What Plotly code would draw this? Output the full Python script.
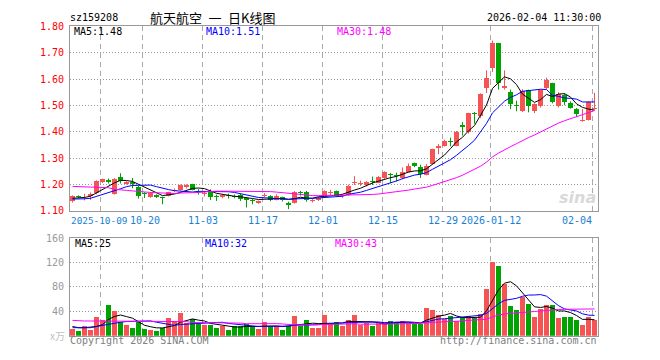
import plotly.graph_objects as go
import pandas as pd

# ---------------- data ----------------
tick_labels = ["2025-10-09", "10-20", "11-03", "11-17", "12-01", "12-15", "12-29", "2026-01-12", "02-04"]
tick_index = [5, 12, 22, 32, 42, 52, 62, 70, 87]

opens = [1.137, 1.156, 1.155, 1.158, 1.167, 1.209, 1.216, 1.165, 1.229, 1.202,
         1.210, 1.190, 1.168, 1.153, 1.161, 1.153, 1.157, 1.175, 1.180, 1.192,
         1.201, 1.181, 1.166, 1.174, 1.156, 1.151, 1.160, 1.158, 1.162, 1.148,
         1.142, 1.129, 1.156, 1.158, 1.143, 1.151, 1.131, 1.131, 1.170, 1.171,
         1.138, 1.141, 1.160, 1.169, 1.175, 1.157, 1.159, 1.206, 1.203, 1.197,
         1.212, 1.207, 1.226, 1.240, 1.238, 1.223, 1.248, 1.280, 1.268, 1.238,
         1.278, 1.337, 1.345, 1.364, 1.348, 1.424, 1.400, 1.472, 1.459, 1.566,
         1.643, 1.735, 1.566, 1.550, 1.503, 1.480, 1.557, 1.480, 1.496, 1.566,
         1.584, 1.496, 1.541, 1.510, 1.486, 1.441, 1.446, 1.487]
highs = [1.159, 1.159, 1.165, 1.170, 1.216, 1.222, 1.223, 1.224, 1.243, 1.213,
         1.225, 1.195, 1.171, 1.170, 1.163, 1.154, 1.173, 1.185, 1.200, 1.201,
         1.203, 1.183, 1.176, 1.182, 1.162, 1.165, 1.166, 1.162, 1.165, 1.150,
         1.145, 1.140, 1.168, 1.160, 1.163, 1.154, 1.135, 1.175, 1.176, 1.176,
         1.145, 1.153, 1.178, 1.180, 1.177, 1.165, 1.200, 1.232, 1.215, 1.213,
         1.230, 1.232, 1.250, 1.244, 1.245, 1.265, 1.280, 1.283, 1.275, 1.278,
         1.336, 1.354, 1.370, 1.378, 1.403, 1.437, 1.472, 1.475, 1.546, 1.633,
         1.746, 1.737, 1.633, 1.560, 1.518, 1.562, 1.560, 1.508, 1.560, 1.605,
         1.586, 1.550, 1.545, 1.515, 1.490, 1.486, 1.515, 1.548]
lows = [1.132, 1.148, 1.140, 1.142, 1.163, 1.206, 1.204, 1.162, 1.204, 1.200,
        1.186, 1.147, 1.149, 1.150, 1.149, 1.125, 1.155, 1.172, 1.177, 1.185,
        1.178, 1.162, 1.155, 1.141, 1.138, 1.148, 1.147, 1.148, 1.138, 1.113,
        1.125, 1.127, 1.152, 1.137, 1.140, 1.136, 1.107, 1.128, 1.158, 1.135,
        1.132, 1.138, 1.157, 1.160, 1.155, 1.150, 1.157, 1.198, 1.195, 1.193,
        1.198, 1.205, 1.222, 1.205, 1.212, 1.220, 1.245, 1.266, 1.225, 1.235,
        1.276, 1.315, 1.344, 1.345, 1.345, 1.386, 1.393, 1.431, 1.452, 1.547,
        1.627, 1.560, 1.560, 1.486, 1.478, 1.475, 1.474, 1.471, 1.492, 1.562,
        1.508, 1.492, 1.501, 1.488, 1.456, 1.438, 1.443, 1.484]
closes = [1.155, 1.152, 1.157, 1.166, 1.213, 1.220, 1.211, 1.222, 1.214, 1.210,
          1.202, 1.155, 1.166, 1.167, 1.153, 1.150, 1.170, 1.181, 1.198, 1.198,
          1.180, 1.178, 1.169, 1.154, 1.153, 1.161, 1.156, 1.154, 1.144, 1.142,
          1.139, 1.138, 1.159, 1.140, 1.158, 1.142, 1.122, 1.171, 1.167, 1.140,
          1.141, 1.150, 1.176, 1.172, 1.158, 1.160, 1.196, 1.210, 1.206, 1.210,
          1.209, 1.229, 1.247, 1.236, 1.234, 1.247, 1.272, 1.269, 1.239, 1.272,
          1.334, 1.348, 1.367, 1.361, 1.400, 1.420, 1.470, 1.468, 1.544, 1.605,
          1.735, 1.584, 1.574, 1.506, 1.496, 1.554, 1.498, 1.504, 1.557, 1.596,
          1.513, 1.545, 1.513, 1.492, 1.468, 1.445, 1.513, 1.492]
volumes = [11, 8, 16, 10, 30, 26, 51, 40, 22, 17,
           13, 22, 11, 10, 8, 12, 29, 24, 37, 20,
           27, 19, 17, 17, 13, 16, 10, 15, 16, 19,
           15, 11, 22, 16, 15, 10, 16, 32, 15, 26,
           13, 13, 34, 19, 22, 16, 26, 34, 17, 20,
           16, 20, 22, 24, 22, 24, 20, 19, 19, 45,
           42, 34, 28, 33, 24, 30, 32, 29, 36, 76,
           120, 114, 84, 48, 42, 64, 52, 30, 43, 50,
           50, 29, 30, 30, 26, 18, 30, 26]

ma5_head = [1.148, 1.149, 1.151, 1.156]
ma10_head = [1.145, 1.145, 1.146, 1.148, 1.155, 1.162, 1.168, 1.175, 1.184]
ma30_head = [1.193, 1.192, 1.192, 1.192, 1.191, 1.189, 1.188, 1.182, 1.181, 1.178,
             1.176, 1.175, 1.172, 1.170, 1.169, 1.168, 1.166, 1.166, 1.168, 1.168,
             1.169, 1.170, 1.172, 1.174, 1.175, 1.175, 1.175, 1.175, 1.175]
vma5_head = [15, 13, 13, 14]
vma10_head = [13, 13, 13, 13, 15, 17, 19, 21, 22]
vma30_head = [25, 24, 24, 24, 24, 23.5, 23.5, 23.5, 23.5, 23.5,
              23.5, 23.5, 23.5, 23, 23, 23, 23, 23, 23, 23,
              21.5, 21.5, 21.5, 21.5, 21.5, 20.5, 20.5, 20.5, 20.5]

price_ticks = [1.10, 1.20, 1.30, 1.40, 1.50, 1.60, 1.70, 1.80]
vol_ticks = [40, 80, 120, 160]
ma_price_labels = ["MA5:1.48", "MA10:1.51", "MA30:1.48"]
ma_vol_labels = ["MA5:25", "MA10:32", "MA30:43"]


def moving(values, n, head):
    s = pd.Series(values, dtype=float).rolling(n).mean()
    for k, v in enumerate(head):
        s.iloc[k] = v
    return s.tolist()


ma5 = moving(closes, 5, ma5_head)
ma10 = moving(closes, 10, ma10_head)
ma30 = moving(closes, 30, ma30_head)
vma5 = moving(volumes, 5, vma5_head)
vma10 = moving(volumes, 10, vma10_head)
vma30 = moving(volumes, 30, vma30_head)

# ---------------- style ----------------
W, H = 660, 360
RED = "#f65454"
GREEN = "#00a300"
MONO = "DejaVu Sans Mono"
CJK = "Noto Sans CJK SC"
PX_L, PX_R = 70, 598
MAIN_T, MAIN_B = 21, 212
VOL_T, VOL_B = 240, 341
STEP = 6.0
FIRST_C = 72.5
BODY_W = 5 / 6

n = len(closes)
xs = list(range(n))
x_min = -(FIRST_C - PX_L) / STEP
x_max = (PX_R - FIRST_C) / STEP
grid_x = [i - 1 / 3 for i in tick_index]

fig = go.Figure()
up = [c >= o for o, c in zip(opens, closes)]

for flag, col in [(True, RED), (False, GREEN)]:
    idx = [i for i in xs if up[i] == flag]
    wx, wy = [], []
    for i in idx:
        wx += [i, i, None]
        wy += [lows[i], highs[i], None]
    fig.add_trace(go.Scatter(x=wx, y=wy, mode="lines", line=dict(color=col, width=1),
                             xaxis="x", yaxis="y", hoverinfo="skip"))
    minh = 0.0025
    bases, hts = [], []
    for i in idx:
        lo, hi = min(opens[i], closes[i]), max(opens[i], closes[i])
        h = hi - lo
        if h < minh:
            lo -= (minh - h) / 2
            h = minh
        bases.append(lo)
        hts.append(h)
    fig.add_trace(go.Bar(x=idx, y=hts, base=bases, width=BODY_W,
                         marker=dict(color=col, line=dict(width=0)),
                         xaxis="x", yaxis="y", hoverinfo="skip"))
    fig.add_trace(go.Bar(x=idx, y=[volumes[i] for i in idx], width=BODY_W,
                         marker=dict(color=col, line=dict(width=0)),
                         xaxis="x2", yaxis="y2", hoverinfo="skip"))

for series, col in [(ma5, "#000000"), (ma10, "#0000ff"), (ma30, "#ff00ff")]:
    fig.add_trace(go.Scatter(x=xs, y=series, mode="lines", line=dict(color=col, width=1),
                             xaxis="x", yaxis="y", hoverinfo="skip"))
for series, col in [(vma5, "#000000"), (vma10, "#0000ff"), (vma30, "#ff00ff")]:
    fig.add_trace(go.Scatter(x=xs, y=series, mode="lines", line=dict(color=col, width=1),
                             xaxis="x2", yaxis="y2", hoverinfo="skip"))

xdom = [PX_L / W, PX_R / W]
common_x = dict(range=[x_min, x_max], tickvals=grid_x, showticklabels=False, ticks="",
                showgrid=True, gridcolor="#aaaaaa", griddash="5px,4px", gridwidth=1,
                zeroline=False, showline=True, linecolor="#999999", linewidth=1, mirror=True,
                fixedrange=True, domain=xdom)


def ydom(t, b):
    return [1 - b / H, 1 - t / H]


fig.update_layout(
    width=W, height=H, margin=dict(l=0, r=0, t=0, b=0),
    paper_bgcolor="white", plot_bgcolor="white",
    showlegend=False, hovermode=False, barmode="overlay", bargap=0,
    xaxis=dict(anchor="y", **common_x),
    xaxis2=dict(anchor="y2", **common_x),
    yaxis=dict(anchor="x", domain=ydom(MAIN_T, MAIN_B), range=[1.10, 1.80],
               tickvals=price_ticks, ticktext=["%.2f" % v for v in price_ticks],
               tickfont=dict(color="#ff0000", size=10, family=MONO), ticks="",
               ticklabelstandoff=3,
               showgrid=True, gridcolor="#999999", griddash="1px,2px", gridwidth=1,
               zeroline=False, showline=True, linecolor="#999999", linewidth=1, mirror=True,
               fixedrange=True),
    yaxis2=dict(anchor="x2", domain=ydom(VOL_T, VOL_B), range=[0, 160],
                tickvals=vol_ticks, ticktext=[str(v) for v in vol_ticks],
                tickfont=dict(color="#999999", size=10, family=MONO), ticks="",
                ticklabelstandoff=3,
                showgrid=True, gridcolor="#999999", griddash="1px,2px", gridwidth=1,
                zeroline=False, showline=True, linecolor="#999999", linewidth=1, mirror=True,
                fixedrange=True),
)


def ann(text, px, py, color="#000000", size=10, family=MONO, xanchor="left", **kw):
    fig.add_annotation(text=text, x=px / W, y=1 - py / H, xref="paper", yref="paper",
                       xanchor=xanchor, yanchor="middle", showarrow=False,
                       font=dict(color=color, size=size, family=family),
                       borderpad=0, **kw)


# header
ann("sz159208", 69, 12)
ann("航天航空\u2002一\u2002日K线图", 149, 12, size=13, family=CJK)
ann("2026-02-04 11:30:00", 602, 12, xanchor="right")

# MA labels
for txt, px, col in zip(ma_price_labels, [73, 205, 336], ["#000000", "#0000ff", "#ff00ff"]):
    ann(txt, px, 26, color=col)
for txt, px, col in zip(ma_vol_labels, [74, 204, 334], ["#000000", "#0000ff", "#ff00ff"]):
    ann(txt, px, 246, color=col)

# date labels under the main chart (first starts at the plot edge, second follows it, last ends at its grid line)
DATE_Y = 1 - 221.5 / H
for k, (lab, gi) in enumerate(zip(tick_labels, grid_x)):
    size = 10
    if k == 0:
        xpos, xref, anchor, size = PX_L / W, "paper", "left", 9.4
    elif k == 1:
        xpos, xref, anchor = gi - 14 / STEP, "x", "left"
    elif k == len(tick_labels) - 1:
        xpos, xref, anchor = gi, "x", "right"
    else:
        xpos, xref, anchor = gi, "x", "center"
    fig.add_annotation(text=lab, x=xpos, y=DATE_Y, xref=xref, yref="paper",
                       xanchor=anchor, yanchor="middle", showarrow=False, borderpad=0,
                       font=dict(color="#1a7fd4", size=size, family=MONO))

# footer
ann("Copyright 2026 SINA.COM", 69, 346, color="#808080")
ann("http://finance.sina.com.cn", 598, 346, color="#808080", xanchor="right")
ann("x万", 49, 341, color="#c0c0c0", size=10, family=CJK)

# watermark
ann("<i><b>sina</b></i>", 597, 198, color="#d9d9d9", size=16, family="DejaVu Sans", xanchor="right")

fig.write_html("out.html", config={"displayModeBar": False, "staticPlot": True})
